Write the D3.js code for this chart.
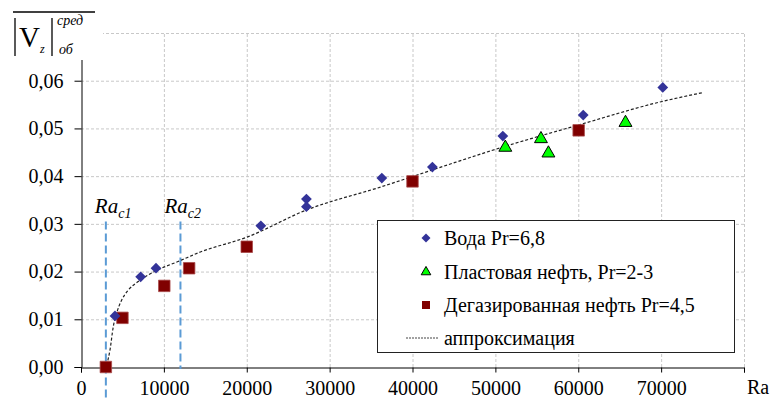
<!DOCTYPE html>
<html>
<head>
<meta charset="utf-8">
<script src="https://cdnjs.cloudflare.com/ajax/libs/d3/7.8.5/d3.min.js"></script>
<style>
  body { margin: 0; background: #fff; }
  text { font-family: "Liberation Serif", "Times New Roman", serif; fill: #000; }
</style>
</head>
<body>
<div id="chart"></div>
<script>
// data
const waterRa = [4100, 7200, 9050, 21700, 27200, 27200, 36300, 42400, 50900, 60600, 70200]
const waterV = [0.0107, 0.0189, 0.0207, 0.0296, 0.0352, 0.0336, 0.0396, 0.0419, 0.0484, 0.0528, 0.0586]
const oilRa = [51200, 55500, 56400, 65700]
const oilV = [0.0460, 0.0478, 0.0448, 0.0512]
const degRa = [3000, 5000, 10050, 13050, 20000, 40000, 60050]
const degV = [0.0000, 0.0103, 0.0170, 0.0207, 0.0252, 0.0389, 0.0496]
const fitRa = [3100, 3500, 3900, 4300, 4900, 5700, 6900, 8100, 9700, 11700, 14400, 20000, 27200, 36300, 42400, 50900, 60000, 70000, 75000]
const fitV = [0.0004, 0.0036, 0.0085, 0.0113, 0.0140, 0.0161, 0.0179, 0.0193, 0.0207, 0.0221, 0.0241, 0.0272, 0.0329, 0.0378, 0.0413, 0.0461, 0.0507, 0.0556, 0.0575]
const criticalRa = [3000, 12000]
const criticalNames = ["c1", "c2"]
const xTicks = [0, 10000, 20000, 30000, 40000, 50000, 60000, 70000, 80000]
const yTicks = [0, 0.01, 0.02, 0.03, 0.04, 0.05, 0.06, 0.07]
const legendNames = ["Вода Pr=6,8", "Пластовая нефть, Pr=2-3", "Дегазированная нефть Pr=4,5", "аппроксимация"]

const W = 771, H = 400
const FONT = '"Liberation Serif", "Times New Roman", serif'
const svg = d3.select("#chart").append("svg").attr("width", W).attr("height", H)

const x = d3.scaleLinear().domain([0, 80000]).range([81, 744])
const y = d3.scaleLinear().domain([0, 0.07]).range([367, 33])
const ru = d3.formatLocale({ decimal: ",", thousands: "", grouping: [3], currency: ["", ""] })

// grid
svg.append("g").selectAll("line.gy")
  .data(yTicks.slice(1)).enter().append("line")
  .attr("x1", x(0)).attr("x2", x(80000))
  .attr("y1", d => y(d) + 0.5).attr("y2", d => y(d) + 0.5)
  .attr("stroke", "#c8c8c8").attr("stroke-dasharray", "3,2")
svg.append("g").selectAll("line.gx")
  .data(xTicks.slice(1)).enter().append("line")
  .attr("x1", d => x(d) + 0.5).attr("x2", d => x(d) + 0.5)
  .attr("y1", y(0)).attr("y2", y(0.07))
  .attr("stroke", "#c8c8c8").attr("stroke-dasharray", "3,2")

// axes
const xAxis = svg.append("g").attr("transform", `translate(0,${y(0) + 0.5})`)
  .call(d3.axisBottom(x).tickValues(xTicks).tickSize(5).tickPadding(8)
    .tickFormat(d => d === 80000 ? "" : d3.format("d")(d)))
  .attr("font-family", FONT).attr("font-size", 20)
xAxis.select(".domain").attr("stroke", "#000")

// top tick label is hidden under the corner label in the original
const yAxis = svg.append("g").attr("transform", `translate(${x(0) + 0.5},0)`)
  .call(d3.axisLeft(y).tickValues(yTicks).tickSize(7).tickPadding(11)
    .tickFormat(d => d >= 0.07 ? "" : ru.format(".2f")(d)))
  .attr("font-family", FONT).attr("font-size", 20)

svg.append("text").attr("x", 747).attr("y", 394).style("font-size", "20px").text("Ra")

// critical Ra lines
svg.append("g").selectAll("line")
  .data(criticalRa).enter().append("line")
  .attr("x1", d => x(d)).attr("x2", d => x(d))
  .attr("y1", y(0.0305))
  .attr("y2", (d, i) => i === 0 ? 398 : 369)
  .attr("stroke", "#5b9bd5").attr("stroke-width", 2).attr("stroke-dasharray", "8,4")

const cl = svg.append("g").selectAll("text")
  .data(criticalRa).enter().append("text")
  .attr("x", (d, i) => x(d) - (i === 0 ? 11 : 16))
  .attr("y", 213)
  .style("font-size", "21px").style("font-style", "italic")
cl.append("tspan").text("Ra")
cl.append("tspan").attr("dy", 5).style("font-size", "14px").text((d, i) => criticalNames[i])

// approximation
const fit = fitRa.map((d, i) => [d, fitV[i]])
svg.append("path").datum(fit)
  .attr("d", d3.line().x(d => x(d[0])).y(d => y(d[1])).curve(d3.curveMonotoneX))
  .attr("fill", "none").attr("stroke", "#222").attr("stroke-width", 1.2).attr("stroke-dasharray", "3,2")

// markers
const water = waterRa.map((d, i) => [d, waterV[i]])
const oil = oilRa.map((d, i) => [d, oilV[i]])
const deg = degRa.map((d, i) => [d, degV[i]])

svg.append("g").selectAll("path")
  .data(deg).enter().append("path")
  .attr("d", d3.symbol(d3.symbolSquare, 132))
  .attr("transform", d => `translate(${x(d[0])},${y(d[1])})`)
  .attr("fill", "#800000").attr("stroke", "#a84a4a").attr("stroke-width", 0.8)

svg.append("g").selectAll("path")
  .data(water).enter().append("path")
  .attr("d", d3.symbol(d3.symbolSquare, 58))
  .attr("transform", d => `translate(${x(d[0])},${y(d[1])}) rotate(45)`)
  .attr("fill", "#333399")

svg.append("g").selectAll("path")
  .data(oil).enter().append("path")
  .attr("d", d3.symbol(d3.symbolTriangle, 72))
  .attr("transform", d => `translate(${x(d[0])},${y(d[1])})`)
  .attr("fill", "#00ff00").attr("stroke", "#000").attr("stroke-width", 1)

// legend
const lg = svg.append("g").attr("transform", "translate(377,220)")
lg.append("rect").attr("x", 0.5).attr("y", 0.5).attr("width", 357).attr("height", 132)
  .attr("fill", "#fff").attr("stroke", "#222")
const rows = [18, 52, 85, 118]
lg.append("path").attr("d", d3.symbol(d3.symbolSquare, 40))
  .attr("transform", `translate(49,${rows[0]}) rotate(45)`).attr("fill", "#333399")
lg.append("path").attr("d", d3.symbol(d3.symbolTriangle, 40))
  .attr("transform", `translate(49,${rows[1]})`).attr("fill", "#00ff00").attr("stroke", "#000")
lg.append("path").attr("d", d3.symbol(d3.symbolSquare, 64))
  .attr("transform", `translate(49,${rows[2]})`).attr("fill", "#800000")
lg.append("line").attr("x1", 29).attr("x2", 62).attr("y1", rows[3]).attr("y2", rows[3])
  .attr("stroke", "#444").attr("stroke-dasharray", "2,1")
lg.selectAll("text.l").data(legendNames).enter().append("text")
  .attr("x", 67).attr("y", (d, i) => rows[i] + 7)
  .style("font-size", "20px").text(d => d)

// y label in the corner
const yl = svg.append("g")
yl.append("rect").attr("x", 0).attr("y", 0).attr("width", 103).attr("height", 60).attr("fill", "#fff")
yl.append("line").attr("x1", 13).attr("x2", 95).attr("y1", 12).attr("y2", 12).attr("stroke", "#000").attr("stroke-width", 1.3)
yl.append("line").attr("x1", 15).attr("x2", 15).attr("y1", 18).attr("y2", 56).attr("stroke", "#000").attr("stroke-width", 1.3)
yl.append("line").attr("x1", 52).attr("x2", 52).attr("y1", 18).attr("y2", 56).attr("stroke", "#000").attr("stroke-width", 1.3)
yl.append("text").attr("x", 19).attr("y", 47).style("font-size", "29px").text("V")
yl.append("text").attr("x", 40).attr("y", 53).style("font-size", "12px").style("font-style", "italic").text("z")
yl.append("text").attr("x", 57).attr("y", 25).style("font-size", "14px").style("font-style", "italic").text("сред")
yl.append("text").attr("x", 59).attr("y", 54).style("font-size", "14px").style("font-style", "italic").text("об")
</script>
</body>
</html>
